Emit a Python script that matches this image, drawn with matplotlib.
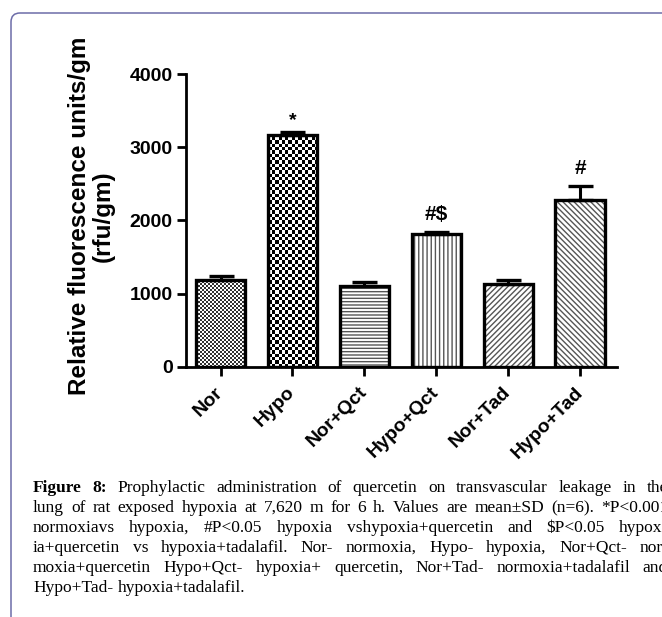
import numpy as np
import matplotlib
matplotlib.use('Agg')
import matplotlib.pyplot as plt
from matplotlib.patches import FancyBboxPatch
from matplotlib.transforms import IdentityTransform

# data
groups = ['Nor', 'Hypo', 'Nor+Qct', 'Hypo+Qct', 'Nor+Tad', 'Hypo+Tad']
means = [1190, 3165, 1105, 1810, 1125, 2280]
sd = [50, 45, 50, 30, 55, 190]
marks = ['', '*', '', '#$', '', '#']
hatches = [None, None, '-----', '||||', '//////', '\\\\\\\\\\\\']

caption = [
    "Figure 8: Prophylactic administration of quercetin on transvascular leakage in the",
    "lung of rat exposed hypoxia at 7,620 m for 6 h. Values are mean±SD (n=6). *P<0.001",
    "normoxiavs hypoxia, #P<0.05 hypoxia vshypoxia+quercetin and $P<0.05 hypox-",
    "ia+quercetin vs hypoxia+tadalafil. Nor- normoxia, Hypo- hypoxia, Nor+Qct- nor-",
    "moxia+quercetin Hypo+Qct- hypoxia+ quercetin, Nor+Tad- normoxia+tadalafil and",
    "Hypo+Tad- hypoxia+tadalafil.",
]

W, H = 662, 617
plt.rcParams['font.family'] = 'Liberation Sans'
plt.rcParams['hatch.linewidth'] = 1.0

fig = plt.figure(figsize=(W / 100, H / 100), dpi=100)
ax = fig.add_axes([186 / W, 250.3 / H, 431 / W, 292.4 / H])

x = np.arange(len(groups))
bw = 0.69
xlim = (-0.48, 5.51)
ylim = (0, 4000)

# hatch layer
for i in range(len(groups)):
    if hatches[i]:
        ax.bar(x[i], means[i], bw, color='white', edgecolor='#555555',
               hatch=hatches[i], linewidth=0, zorder=1)

# checker fills (Nor fine and grey, Hypo coarse and black)
for i, (nc, nr), dark in [(0, (216, 146), 0.8), (1, (131, 88), 1.0)]:
    clip = ax.bar(x[i], means[i], bw, color='white', linewidth=0, zorder=1)[0]
    board = (np.indices((nr, nc)).sum(axis=0) % 2) * dark
    im = ax.imshow(board, cmap='gray_r', extent=(*xlim, *ylim), aspect='auto',
                   interpolation='nearest', zorder=1.5, vmin=0, vmax=1)
    im.set_clip_path(clip)

# outlines + error bars
ax.bar(x, means, bw, fill=False, edgecolor='black', linewidth=2.4, zorder=3)
ax.errorbar(x, means, yerr=[np.zeros(len(sd)), sd], fmt='none', ecolor='black',
            elinewidth=2.2, capsize=9, capthick=2.4, zorder=2)

for i, m in enumerate(marks):
    if m:
        off = 2 if m == '*' else 6
        ax.annotate(m, (x[i], means[i] + sd[i]), xytext=(0, off), textcoords='offset points',
                    ha='center', va='bottom', fontsize=14 if m == '*' else 15,
                    fontweight='bold', annotation_clip=False, parse_math=False)

ax.set_xlim(*xlim)
ax.set_ylim(*ylim)
ax.set_yticks([0, 1000, 2000, 3000, 4000])
ax.set_xticks(x)
ax.set_xticklabels(groups, rotation=45, ha='right', va='center', rotation_mode='anchor')
for lab in ax.get_xticklabels() + ax.get_yticklabels():
    lab.set_fontsize(14)
    lab.set_fontweight('bold')
ax.tick_params(axis='both', width=2, length=6.5, direction='out')
ax.tick_params(axis='y', pad=3)
ax.tick_params(axis='x', pad=10)
for s in ['top', 'right']:
    ax.spines[s].set_visible(False)
for s in ['left', 'bottom']:
    ax.spines[s].set_linewidth(2)

fig.text(91, H - 216, 'Relative fluorescence units/gm\n(rfu/gm)', transform=IdentityTransform(),
         rotation=90, ha='center', va='center', fontsize=17.5, fontweight='bold',
         multialignment='center', linespacing=1.05)

# frame
frame = FancyBboxPatch((11, -60), 760, H - 13 + 60, boxstyle='round,pad=0,rounding_size=9',
                       transform=IdentityTransform(), facecolor='none', edgecolor='#6c6ca8',
                       linewidth=1.1)
fig.patches.append(frame)

# justified caption
fig.canvas.draw()
renderer = fig.canvas.get_renderer()
left, right = 33, 668
y0 = H - 488
for k, line in enumerate(caption):
    words = line.split(' ')
    texts = []
    for j, w in enumerate(words):
        bold = (k == 0 and j < 2)
        t = fig.text(0, y0 - 20 * k, w, transform=IdentityTransform(), va='center', ha='left',
                     family='Liberation Serif', fontsize=12.5,
                     fontweight='bold' if bold else 'normal', parse_math=False)
        texts.append(t)
    widths = [t.get_window_extent(renderer).width for t in texts]
    if k < len(caption) - 1 and len(words) > 1:
        gap = (right - left - sum(widths)) / (len(words) - 1)
    else:
        gap = 0.25 * 12.5 * 100 / 72
    pos = left
    for t, wd in zip(texts, widths):
        t.set_x(pos)
        pos += wd + gap

fig.savefig('out.png', dpi=100)
